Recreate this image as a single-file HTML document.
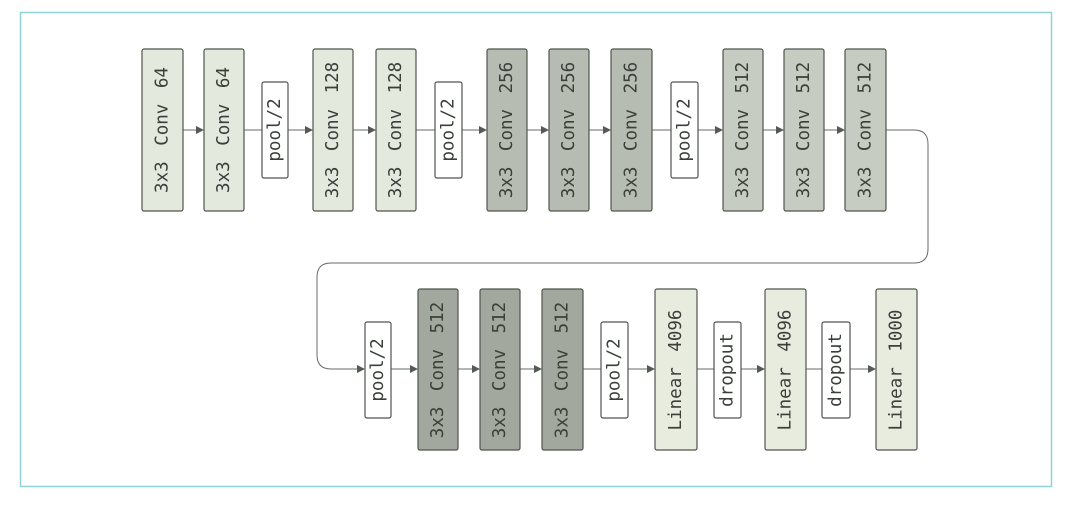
<!DOCTYPE html>
<html><head><meta charset="utf-8"><style>
html,body{margin:0;padding:0;background:#fff;}
svg{display:block}
text{font-family:"DejaVu Sans Mono","Liberation Mono",monospace;font-size:17.5px;fill:#3a3f3a;word-spacing:5px;}
</style></head><body>
<svg width="1070" height="508" viewBox="0 0 1070 508" xmlns="http://www.w3.org/2000/svg">
<defs>
<marker id="a" markerWidth="8" markerHeight="8" refX="7" refY="4" orient="auto" markerUnits="userSpaceOnUse">
<path d="M0,0 L8,4 L0,8 z" fill="#555a55"/></marker>
</defs>
<rect x="20.5" y="12.5" width="1031" height="474" fill="none" stroke="#8fd3d8" stroke-width="1.5"/>
<g stroke="#666b66" stroke-width="1" fill="none">
<line x1="183" y1="130" x2="203" y2="130" marker-end="url(#a)"/>
<line x1="244" y1="130" x2="262" y2="130"/>
<line x1="288" y1="130" x2="312" y2="130" marker-end="url(#a)"/>
<line x1="353" y1="130" x2="375" y2="130" marker-end="url(#a)"/>
<line x1="416" y1="130" x2="435" y2="130"/>
<line x1="462" y1="130" x2="486" y2="130" marker-end="url(#a)"/>
<line x1="527" y1="130" x2="548" y2="130" marker-end="url(#a)"/>
<line x1="589" y1="130" x2="610" y2="130" marker-end="url(#a)"/>
<line x1="652" y1="130" x2="671" y2="130"/>
<line x1="698" y1="130" x2="722" y2="130" marker-end="url(#a)"/>
<line x1="763" y1="130" x2="783" y2="130" marker-end="url(#a)"/>
<line x1="824" y1="130" x2="844" y2="130" marker-end="url(#a)"/>
<path d="M886,130 H914 Q928,130 928,144 V249 Q928,263 914,263 H331 Q317,263 317,277 V355 Q317,369 331,369 H364" marker-end="url(#a)"/>
<line x1="391" y1="369" x2="417" y2="369" marker-end="url(#a)"/>
<line x1="458" y1="369" x2="479" y2="369" marker-end="url(#a)"/>
<line x1="520" y1="369" x2="541" y2="369" marker-end="url(#a)"/>
<line x1="583" y1="369" x2="601" y2="369"/>
<line x1="628" y1="369" x2="654" y2="369" marker-end="url(#a)"/>
<line x1="697" y1="369" x2="714" y2="369"/>
<line x1="741" y1="369" x2="764" y2="369" marker-end="url(#a)"/>
<line x1="806" y1="369" x2="822" y2="369"/>
<line x1="850" y1="369" x2="875" y2="369" marker-end="url(#a)"/>
</g>
<g stroke="#4f544f" stroke-width="1.2">
<rect x="142" y="49" width="41" height="162" rx="2" fill="#e3e9dc"/>
<rect x="204" y="49" width="40" height="162" rx="2" fill="#e3e9dc"/>
<rect x="262" y="82" width="26" height="96" rx="2" fill="#fff"/>
<rect x="313" y="49" width="40" height="162" rx="2" fill="#e3e9dc"/>
<rect x="376" y="49" width="40" height="162" rx="2" fill="#e3e9dc"/>
<rect x="435" y="82" width="27" height="96" rx="2" fill="#fff"/>
<rect x="487" y="49" width="40" height="162" rx="2" fill="#b7bcb2"/>
<rect x="549" y="49" width="40" height="162" rx="2" fill="#b7bcb2"/>
<rect x="611" y="49" width="41" height="162" rx="2" fill="#b7bcb2"/>
<rect x="671" y="82" width="27" height="96" rx="2" fill="#fff"/>
<rect x="723" y="49" width="40" height="162" rx="2" fill="#c6ccc1"/>
<rect x="784" y="49" width="40" height="162" rx="2" fill="#c6ccc1"/>
<rect x="845" y="49" width="41" height="162" rx="2" fill="#c6ccc1"/>
<rect x="365" y="322" width="26" height="96" rx="2" fill="#fff"/>
<rect x="418" y="289" width="40" height="161" rx="2" fill="#a3a89e"/>
<rect x="480" y="289" width="40" height="161" rx="2" fill="#a3a89e"/>
<rect x="542" y="289" width="41" height="161" rx="2" fill="#a3a89e"/>
<rect x="601" y="322" width="27" height="96" rx="2" fill="#fff"/>
<rect x="655" y="289" width="42" height="161" rx="2" fill="#e8ecdf"/>
<rect x="714" y="322" width="27" height="96" rx="2" fill="#fff"/>
<rect x="765" y="289" width="41" height="161" rx="2" fill="#e8ecdf"/>
<rect x="822" y="322" width="28" height="96" rx="2" fill="#fff"/>
<rect x="876" y="289" width="41" height="161" rx="2" fill="#e8ecdf"/>
</g>
<g text-anchor="middle" dominant-baseline="central">
<text transform="translate(162.5,130) rotate(-90)">3x3 Conv 64</text>
<text transform="translate(224,130) rotate(-90)">3x3 Conv 64</text>
<text transform="translate(275,130) rotate(-90)">pool/2</text>
<text transform="translate(333,130) rotate(-90)">3x3 Conv 128</text>
<text transform="translate(396,130) rotate(-90)">3x3 Conv 128</text>
<text transform="translate(448.5,130) rotate(-90)">pool/2</text>
<text transform="translate(507,130) rotate(-90)">3x3 Conv 256</text>
<text transform="translate(569,130) rotate(-90)">3x3 Conv 256</text>
<text transform="translate(631.5,130) rotate(-90)">3x3 Conv 256</text>
<text transform="translate(684.5,130) rotate(-90)">pool/2</text>
<text transform="translate(743,130) rotate(-90)">3x3 Conv 512</text>
<text transform="translate(804,130) rotate(-90)">3x3 Conv 512</text>
<text transform="translate(865.5,130) rotate(-90)">3x3 Conv 512</text>
<text transform="translate(378,370) rotate(-90)">pool/2</text>
<text transform="translate(438,370) rotate(-90)">3x3 Conv 512</text>
<text transform="translate(500,370) rotate(-90)">3x3 Conv 512</text>
<text transform="translate(562.5,370) rotate(-90)">3x3 Conv 512</text>
<text transform="translate(614.5,370) rotate(-90)">pool/2</text>
<text transform="translate(676,370) rotate(-90)">Linear 4096</text>
<text transform="translate(727.5,370) rotate(-90)">dropout</text>
<text transform="translate(785.5,370) rotate(-90)">Linear 4096</text>
<text transform="translate(836,370) rotate(-90)">dropout</text>
<text transform="translate(896.5,370) rotate(-90)">Linear 1000</text>
</g>
</svg>
</body></html>
